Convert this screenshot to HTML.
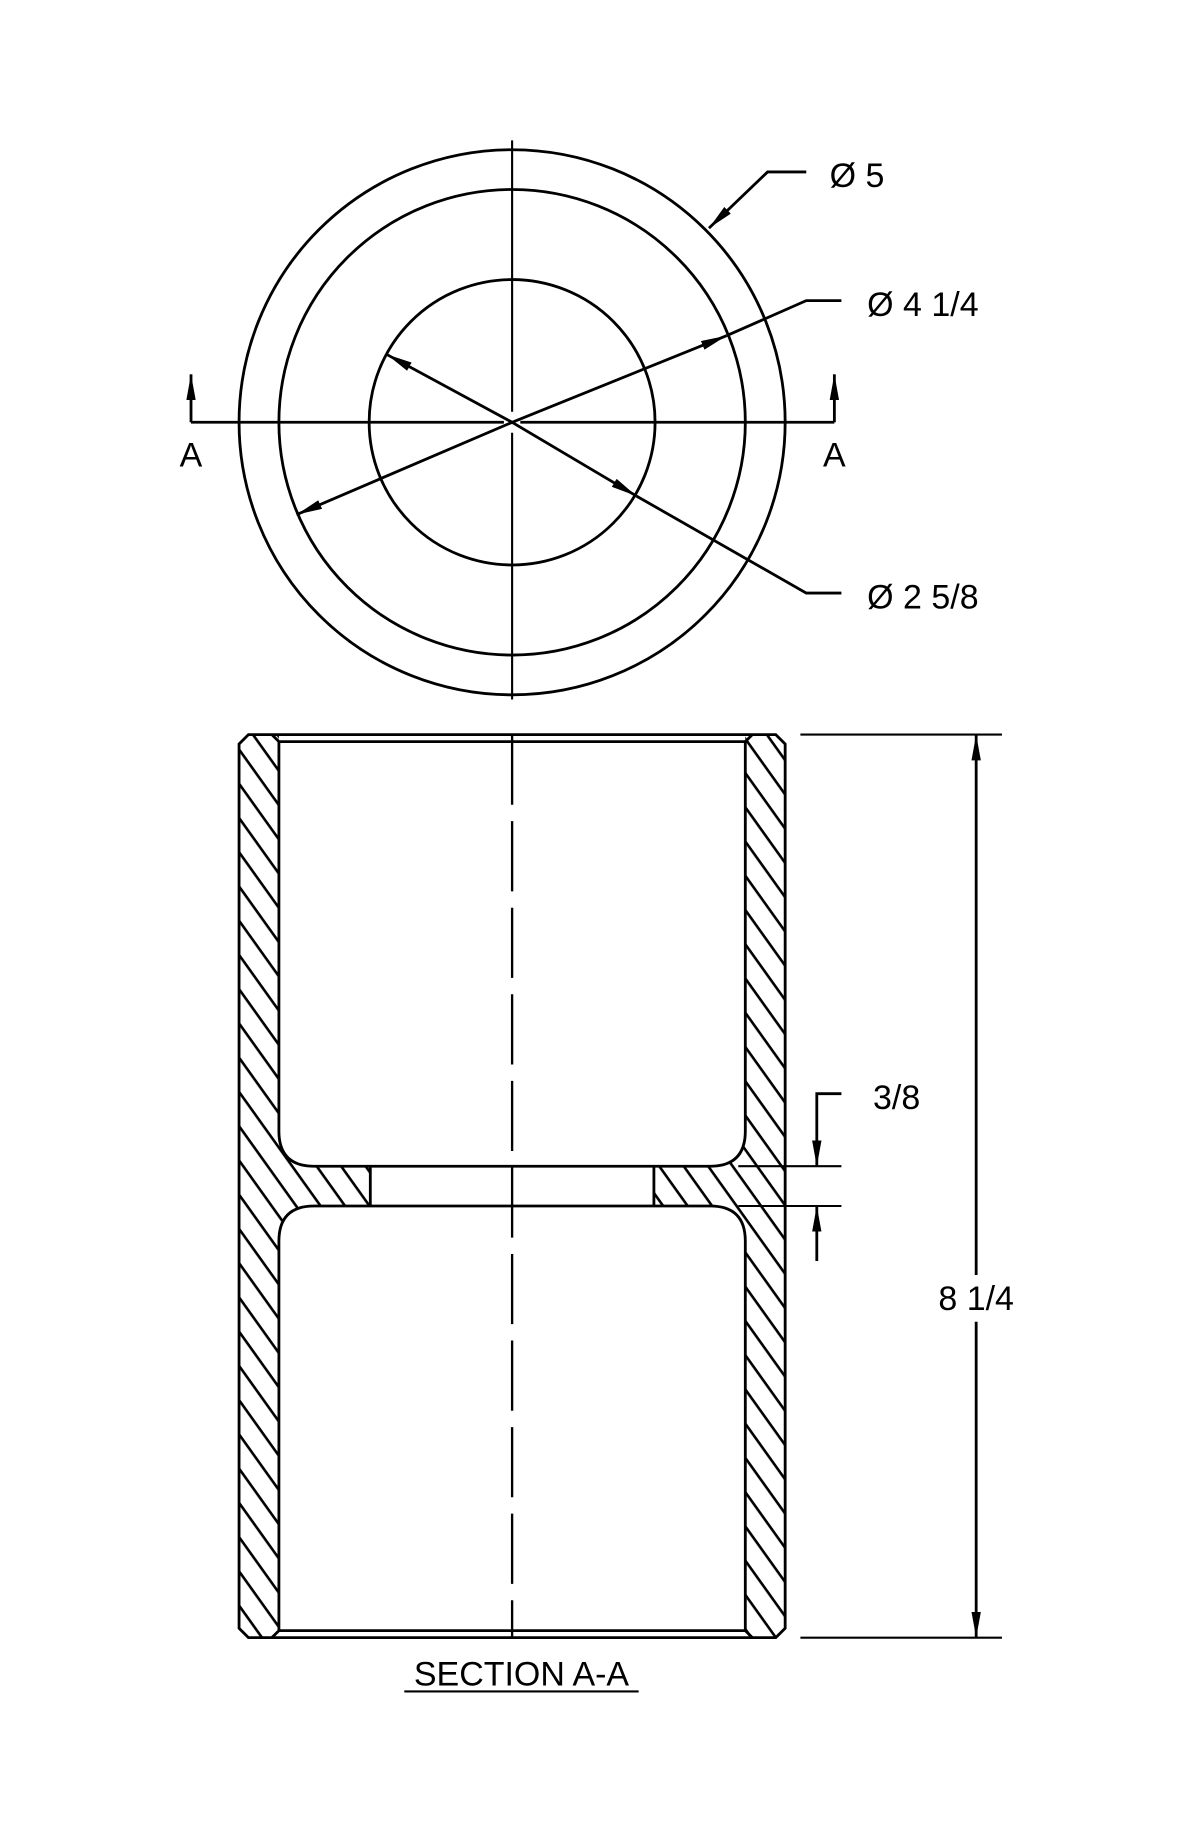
<!DOCTYPE html>
<html><head><meta charset="utf-8"><style>html,body{margin:0;padding:0;background:#fff}svg{display:block}</style></head>
<body>
<svg width="1200" height="1840" viewBox="0 0 1024 1573" preserveAspectRatio="none" xmlns="http://www.w3.org/2000/svg" font-family="Liberation Sans, sans-serif">
<defs>
<pattern id="h" patternUnits="userSpaceOnUse" width="40" height="17" patternTransform="rotate(54.5)">
<line x1="0" y1="2" x2="40" y2="2" stroke="#000" stroke-width="2.2"/>
</pattern>
<marker id="ar" viewBox="0 0 22 8" refX="22" refY="4" markerWidth="22" markerHeight="8" markerUnits="userSpaceOnUse" orient="auto"><path d="M0,0 L22,4 L0,8 Z" fill="#000"/></marker>
</defs>
<g fill="none" stroke="#000" stroke-width="2.4">
<circle cx="437" cy="361" r="233"/>
<circle cx="437" cy="361" r="199"/>
<circle cx="437" cy="361" r="122"/>
<line x1="437" y1="120" x2="437" y2="352" stroke-width="1.8"/>
<line x1="437" y1="370" x2="437" y2="598" stroke-width="1.8"/>
<line x1="163" y1="361" x2="430" y2="361"/>
<line x1="444" y1="361" x2="712" y2="361"/>
<line x1="163" y1="361" x2="163" y2="320" marker-end="url(#ar)"/>
<line x1="712" y1="361" x2="712" y2="320" marker-end="url(#ar)"/>
<polyline points="688,147 655,147 605,195" marker-end="url(#ar)"/>
<line x1="437" y1="361" x2="253" y2="440" marker-end="url(#ar)"/>
<line x1="437" y1="361" x2="620" y2="287" marker-end="url(#ar)"/>
<polyline points="620,287 688,257 718,257"/>
<line x1="437" y1="361" x2="330" y2="303" marker-end="url(#ar)"/>
<line x1="437" y1="361" x2="543" y2="424" marker-end="url(#ar)"/>
<polyline points="543,424 688,507 718,507"/>
</g>
<path fill="url(#h)" fill-rule="evenodd" d="M212,628 H662 L670,636 V1392 L662,1400 H212 L204,1392 V636 Z M238,628 H636 V967 Q636,997 606,997 H268 Q238,997 238,967 Z M316,997 H558 V1031 H316 Z M268,1031 H606 Q636,1031 636,1061 V1400 H238 V1061 Q238,1031 268,1031 Z"/>
<g fill="none" stroke="#000" stroke-width="2.4">
<path d="M212,628 H662 L670,636 V1392 L662,1400 H212 L204,1392 V636 Z"/>
<path d="M238,634 H636 V967 Q636,997 606,997 H268 Q238,997 238,967 Z"/>
<path d="M268,1031 H606 Q636,1031 636,1061 V1394 H238 V1061 Q238,1031 268,1031 Z"/>
<line x1="316" y1="997" x2="316" y2="1031"/>
<line x1="558" y1="997" x2="558" y2="1031"/>
<line x1="238" y1="634" x2="232" y2="628"/>
<line x1="636" y1="634" x2="642" y2="628"/>
<line x1="238" y1="1394" x2="232" y2="1400"/>
<line x1="636" y1="1394" x2="642" y2="1400"/>
<line x1="437" y1="628" x2="437" y2="1400" stroke-width="2" stroke-dasharray="60,14"/>
<line x1="683" y1="628" x2="855" y2="628" stroke-width="1.8"/>
<line x1="683" y1="1400" x2="855" y2="1400" stroke-width="1.8"/>
<line x1="833" y1="1090" x2="833" y2="628" marker-end="url(#ar)"/>
<line x1="833" y1="1130" x2="833" y2="1400" marker-end="url(#ar)"/>
<line x1="630" y1="997" x2="718" y2="997" stroke-width="1.8"/>
<line x1="630" y1="1031" x2="718" y2="1031" stroke-width="1.8"/>
<polyline points="718,935 697,935 697,997" marker-end="url(#ar)"/>
<line x1="697" y1="1078" x2="697" y2="1031" marker-end="url(#ar)"/>
<line x1="345" y1="1446" x2="545" y2="1446" stroke-width="1.8"/>
</g>
<g fill="#000" font-size="29">
<text x="708" y="160">Ø 5</text>
<text x="740" y="270">Ø 4 1/4</text>
<text x="740" y="520">Ø 2 5/8</text>
<text x="163" y="399" text-anchor="middle">A</text>
<text x="712" y="399" text-anchor="middle">A</text>
<text x="745" y="948">3/8</text>
<text x="833" y="1120" text-anchor="middle">8 1/4</text>
<text x="445" y="1441" text-anchor="middle">SECTION A-A</text>
</g>
</svg>
</body></html>
